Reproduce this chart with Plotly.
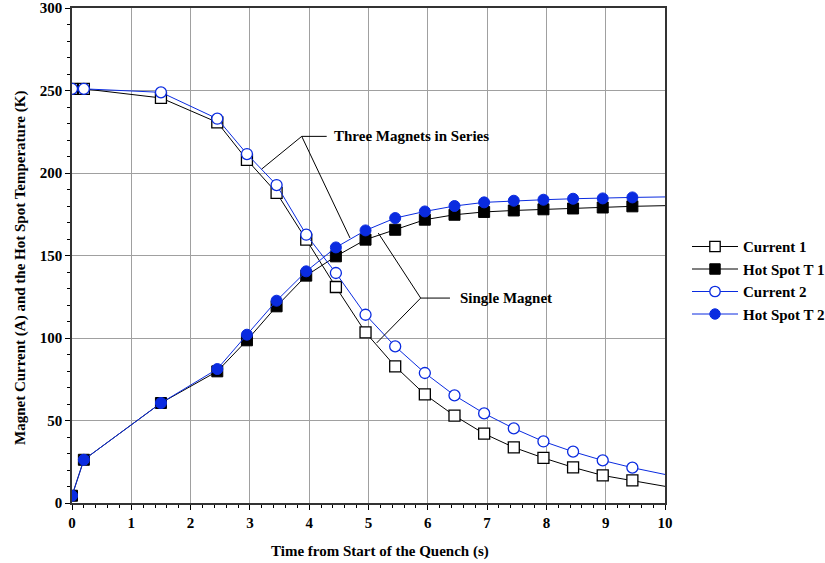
import plotly.graph_objects as go

# ---- data ----
time = [0, 0.2, 1.5, 2.45, 2.95, 3.45, 3.95, 4.45, 4.95, 5.45, 5.95, 6.45, 6.95, 7.45, 7.95, 8.45, 8.95, 9.45, 10]
current_1 = [251, 251, 245.5, 230.7, 208, 188, 159.6, 130.9, 103.4, 82.8, 65.8, 52.9, 42, 33.7, 27.3, 21.6, 16.7, 13.7, 10.1]
hot_spot_1 = [4.4, 26.2, 60.6, 79.8, 98.6, 119.2, 137.8, 149.5, 159.6, 165.6, 171.7, 174.7, 176.4, 177.3, 178, 178.5, 179.1, 179.8, 180.2]
current_2 = [251, 251, 248.9, 232.9, 211.5, 192.7, 162.6, 139.4, 114.1, 94.9, 78.8, 65.2, 54.3, 45.2, 37.3, 31.1, 25.8, 21.4, 17.3]
hot_spot_2 = [4.4, 26.2, 60.6, 81.2, 102, 122.6, 140.4, 154.9, 165.2, 172.7, 176.7, 180, 182.2, 183.2, 183.8, 184.4, 184.6, 185.2, 185.5]

series_names = ["Current 1", "Hot Spot T 1", "Current 2", "Hot Spot T 2"]
x_title = "Time from Start of the Quench (s)"
y_title = "Magnet Current (A) and the Hot Spot Temperature (K)"

# annotation leader lines (data coordinates)
three_vertex = (3.874, 222.2)
three_ends = [(3.199, 202.4), (4.688, 160.6), (4.295, 222.2)]
three_label = (4.379, 222.2)
single_vertex = (5.880, 124.2)
single_ends = [(5.165, 163.6), (5.138, 97.0), (6.374, 124.2)]
single_label = (6.514, 124.2)

BLACK = "#000000"
BLUE = "#0a2be0"
FONT = "Liberation Serif"

n = len(time)
msize = [11] * (n - 1) + [0]

fig = go.Figure()
fig.add_trace(go.Scatter(
    x=time, y=current_1, name=series_names[0], mode="lines+markers",
    line=dict(color=BLACK, width=1),
    marker=dict(symbol="square", size=msize, color="white", opacity=1, line=dict(color=BLACK, width=1.3)),
))
fig.add_trace(go.Scatter(
    x=time, y=hot_spot_1, name=series_names[1], mode="lines+markers",
    line=dict(color=BLACK, width=1),
    marker=dict(symbol="square", size=msize, color=BLACK, opacity=1, line=dict(color=BLACK, width=1)),
))
fig.add_trace(go.Scatter(
    x=time, y=current_2, name=series_names[2], mode="lines+markers",
    line=dict(color=BLUE, width=1),
    marker=dict(symbol="circle", size=msize, color="white", opacity=1, line=dict(color=BLUE, width=1.3)),
))
fig.add_trace(go.Scatter(
    x=time, y=hot_spot_2, name=series_names[3], mode="lines+markers",
    line=dict(color=BLUE, width=1),
    marker=dict(symbol="circle", size=msize, color=BLUE, opacity=1, line=dict(color=BLUE, width=1)),
))

shapes = []
for (vx, vy), ends in [(three_vertex, three_ends), (single_vertex, single_ends)]:
    for ex, ey in ends:
        shapes.append(dict(type="line", xref="x", yref="y", x0=vx, y0=vy, x1=ex, y1=ey,
                           line=dict(color=BLACK, width=1)))

annotations = [
    dict(x=three_label[0], y=three_label[1], xref="x", yref="y", text="<b>Three Magnets in Series</b>",
         showarrow=False, xanchor="left", yanchor="middle", font=dict(family=FONT, size=15, color=BLACK)),
    dict(x=single_label[0], y=single_label[1], xref="x", yref="y", text="<b>Single Magnet</b>",
         showarrow=False, xanchor="left", yanchor="middle", font=dict(family=FONT, size=15, color=BLACK)),
    dict(x=0.519, y=-0.097, xref="paper", yref="paper", text="<b>" + x_title + "</b>",
         showarrow=False, xanchor="center", yanchor="middle", font=dict(family=FONT, size=15, color=BLACK)),
    dict(x=-0.0877, y=0.4747, xref="paper", yref="paper", text="<b>" + y_title + "</b>", textangle=-90,
         showarrow=False, xanchor="center", yanchor="middle", font=dict(family=FONT, size=15, color=BLACK)),
]

axis_common = dict(
    showgrid=True, gridcolor="#a0a0a0", gridwidth=1,
    showline=True, linecolor="#333333", linewidth=1.5, mirror=True,
    ticks="outside", ticklen=5, tickcolor=BLACK, tickwidth=1,
    tickfont=dict(family=FONT, size=15, color=BLACK, weight="bold"),
    zeroline=False, automargin=False,
)

W, H = 825, 563
L, R = 72, 160

fig.update_layout(
    width=W, height=H,
    margin=dict(l=L, r=R, t=8, b=60, autoexpand=False),
    plot_bgcolor="white", paper_bgcolor="white",
    font=dict(family=FONT, color=BLACK),
    xaxis=dict(range=[0, 10], dtick=1, tick0=0,
               minor=dict(dtick=0.2, ticks="outside", ticklen=3, tickcolor=BLACK, showgrid=False),
               **axis_common),
    yaxis=dict(range=[0, 300], dtick=50, tick0=0,
               minor=dict(dtick=10, ticks="outside", ticklen=3, tickcolor=BLACK, showgrid=False),
               **axis_common),
    legend=dict(xref="container", x=687 / W, y=0.551, xanchor="left", yanchor="top",
                font=dict(family=FONT, size=15, color=BLACK, weight="bold"),
                itemwidth=46, bgcolor="rgba(0,0,0,0)",
                tracegroupgap=0),
    shapes=shapes,
    annotations=annotations,
)

fig.write_html("out.html")
